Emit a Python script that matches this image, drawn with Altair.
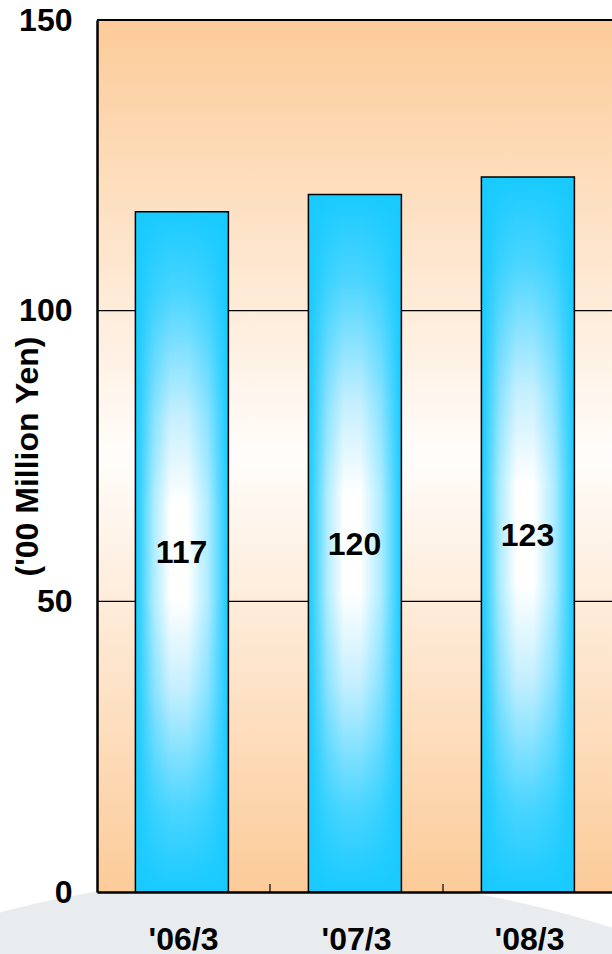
import altair as alt
import pandas as pd

# ---- data ----
categories = ["'06/3", "'07/3", "'08/3"]
values = [117, 120, 123]
y_ticks = [0, 50, 100, 150]
grid_values = [50, 100]
top_value = [150]
tick_after = ["'06/3", "'07/3"]
y_title = "('00 Million Yen)"

W = 515
H = 872
FONT = "Liberation Sans"
CYAN = "#18CAFF"

df = pd.DataFrame({"cat": categories, "value": values})
one = pd.DataFrame({"k": [0]})

xscale = alt.Scale(domain=categories, range=[0, 519], paddingInner=0, paddingOuter=0)
yscale = alt.Scale(domain=[0, 150], nice=False)

bg_grad = alt.Gradient(
    gradient="linear", x1=0, x2=0, y1=0, y2=1,
    stops=[
        alt.GradientStop(color="#FCCB98", offset=0),
        alt.GradientStop(color="#FFFDFB", offset=0.5),
        alt.GradientStop(color="#FCCB98", offset=1),
    ],
)

v_grad = alt.Gradient(
    gradient="linear", x1=0, x2=0, y1=0, y2=1,
    stops=[
        alt.GradientStop(color=CYAN, offset=0),
        alt.GradientStop(color="#4AD5FF", offset=0.12),
        alt.GradientStop(color="#C5EFFF", offset=0.3),
        alt.GradientStop(color="#FFFFFF", offset=0.43),
        alt.GradientStop(color="#FFFFFF", offset=0.57),
        alt.GradientStop(color="#C5EFFF", offset=0.7),
        alt.GradientStop(color="#4AD5FF", offset=0.88),
        alt.GradientStop(color=CYAN, offset=1),
    ],
)

h_grad = alt.Gradient(
    gradient="linear", x1=0, x2=1, y1=0, y2=0,
    stops=[
        alt.GradientStop(color="rgba(24,202,255,1)", offset=0),
        alt.GradientStop(color="rgba(24,202,255,0.8)", offset=0.07),
        alt.GradientStop(color="rgba(24,202,255,0.35)", offset=0.2),
        alt.GradientStop(color="rgba(24,202,255,0)", offset=0.38),
        alt.GradientStop(color="rgba(24,202,255,0)", offset=0.56),
        alt.GradientStop(color="rgba(24,202,255,0.35)", offset=0.78),
        alt.GradientStop(color="rgba(24,202,255,0.8)", offset=0.93),
        alt.GradientStop(color="rgba(24,202,255,1)", offset=1),
    ],
)

x_axis = alt.Axis(
    title=None, labelAngle=0, labelFont=FONT, labelFontSize=32, labelFontWeight="bold",
    labelColor="black", labelPadding=32, labelBaseline="top", ticks=False,
    domain=True, domainColor="black", domainWidth=2.5, grid=False, zindex=1,
)
y_axis = alt.Axis(
    values=y_ticks, title=y_title, titleFont=FONT, titleFontSize=32, titleFontWeight="bold",
    titleColor="black", titleAngle=270, titleAlign="center", titleBaseline="alphabetic",
    titleX=-60, titleY=436, labelFont=FONT, labelFontSize=32, labelFontWeight="bold",
    labelColor="black", labelPadding=25, labelBaseline="middle", ticks=False,
    domain=True, domainColor="black", domainWidth=2.5, grid=False, zindex=1,
)


def X(field, **kw):
    return alt.X(field, scale=xscale, axis=x_axis, title=None, **kw)


def Y(field):
    return alt.Y(field, scale=yscale, axis=y_axis, title=y_title)


floor = alt.Chart(one).mark_arc(
    radius=1095, theta=0, theta2=6.2832, fill="#E9ECEF"
).encode(x=alt.value(183), y=alt.value(1951))

bg = alt.Chart(one).mark_rect(fill=bg_grad).encode(
    x=alt.value(0), x2=alt.value(W), y=alt.value(0), y2=alt.value(H)
)

grid = alt.Chart(pd.DataFrame({"v": grid_values})).mark_rule(
    color="black", strokeWidth=1.2
).encode(y=Y("v:Q"))

top = alt.Chart(pd.DataFrame({"v": top_value})).mark_rule(
    color="black", strokeWidth=2
).encode(y=Y("v:Q"))

inner_ticks = alt.Chart(pd.DataFrame({"cat": tick_after})).mark_rule(
    color="black", strokeWidth=1.2
).encode(
    x=X("cat:N", bandPosition=1),
    y=alt.value(H - 8), y2=alt.value(H),
)

bars_a = alt.Chart(df).mark_bar(width=93, xOffset=-1.6, fill=v_grad).encode(
    x=X("cat:N"), y=Y("value:Q"),
)

bars_b = alt.Chart(df).mark_bar(
    width=93, xOffset=-1.6, fill=h_grad, stroke="black", strokeWidth=1.5
).encode(
    x=X("cat:N"), y=Y("value:Q"),
)

labels = alt.Chart(df).transform_calculate(half="datum.value / 2").mark_text(
    font=FONT, fontSize=32, fontWeight="bold", color="black", baseline="middle",
    dy=1.4, dx=-2,
).encode(
    x=X("cat:N"), y=Y("half:Q"),
    text=alt.Text("value:Q", format="d"),
)

chart = alt.layer(floor, bg, grid, top, inner_ticks, bars_a, bars_b, labels).properties(
    width=W, height=H,
    autosize=alt.AutoSizeParams(type="none"),
    padding={"left": 97, "top": 20, "right": 0, "bottom": 62},
    background="white",
).configure_view(stroke="transparent")

chart.save("out.html", embed_options={"renderer": "svg", "actions": False})
